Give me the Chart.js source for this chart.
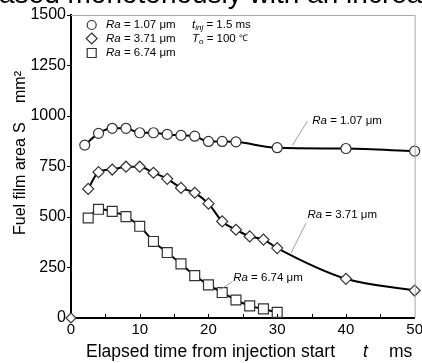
<!DOCTYPE html>
<html>
<head>
<meta charset="utf-8">
<script src="https://cdn.jsdelivr.net/npm/chart.js@4.4.0/dist/chart.umd.min.js"></script>
<style>
  html, body { margin: 0; padding: 0; background: #fff; overflow: hidden; }
  #wrap { width: 426px; height: 363px; }
</style>
</head>
<body>
<div id="wrap"><canvas id="myChart" width="426" height="363"></canvas></div>
<script>
// data (time in ms, area in mm2)
const timeRa107 = [2, 4, 6, 8, 10, 12, 14, 16, 18, 20, 22, 24, 30, 40, 50];
const areaRa107 = [856, 914, 939, 939, 917, 917, 909, 904, 900, 874, 874, 872, 843, 839, 826];

const timeRa371 = [2.5, 4, 6, 8, 10, 12, 14, 16, 18, 20, 22, 24, 26, 28, 30, 40, 50];
const areaRa371 = [639, 722, 735, 749, 749, 719, 689, 644, 620, 566, 478, 437, 404, 388, 346, 194, 136];

const timeRa674 = [2.5, 4, 6, 8, 10, 12, 14, 16, 18, 20, 22, 24, 26, 28, 30];
const areaRa674 = [495, 538, 528, 502, 454, 379, 324, 268, 210, 164, 126, 89, 60, 45, 28];

const originPoint = [{x: 0, y: 0}];

const xTicksMinor = [5, 10, 15, 20, 25, 30, 35, 40, 45];

// curve labels with leader lines (data units)
const curveLabels = [
    {text: ' = 1.07 μm', from: [32.2, 854], to: [34.4, 975], at: [35.1, 975]},
    {text: ' = 3.71 μm', from: [32.0, 321], to: [34.2, 470], at: [34.4, 512]},
    {text: ' = 6.74 μm', from: [21.6, 139], to: [23.5, 180], at: [23.6, 199]}
];

function toXY(tx, ty) {
    return tx.map((t, i) => ({x: t, y: ty[i]}));
}

function richText(ctx, x, y, parts) {
    let cx = x;
    parts.forEach(p => {
        ctx.font = (p.i ? 'italic ' : '') + (p.size || 11.5) + 'px Arial';
        ctx.fillText(p.t, cx, y + (p.dy || 0));
        cx += ctx.measureText(p.t).width;
    });
}

function marker(ctx, style, x, y) {
    ctx.save();
    ctx.fillStyle = '#fff';
    ctx.strokeStyle = '#333';
    ctx.lineWidth = 1.2;
    ctx.beginPath();
    if (style === 'circle') {
        ctx.arc(x, y, 4.5, 0, Math.PI * 2);
    } else if (style === 'diamond') {
        ctx.moveTo(x, y - 5.5); ctx.lineTo(x + 5.5, y); ctx.lineTo(x, y + 5.5); ctx.lineTo(x - 5.5, y); ctx.closePath();
    } else {
        ctx.rect(x - 4.5, y - 4.5, 9, 9);
    }
    ctx.fill();
    ctx.stroke();
    ctx.restore();
}

const decorPlugin = {
    id: 'decor',
    afterDraw(chart) {
        const ctx = chart.ctx;
        const a = chart.chartArea;
        const xs = chart.scales.x, ys = chart.scales.y;
        ctx.save();

        // cropped caption text at very top
        ctx.fillStyle = '#000';
        ctx.font = '28px Arial';
        ctx.textBaseline = 'alphabetic';
        ctx.textAlign = 'left';
        const pre = ctx.measureText('cre').width;
        ctx.fillText('creased monotonously with an increase', -1 - pre, 3);

        // frame top/right
        ctx.strokeStyle = '#aaa';
        ctx.lineWidth = 1;
        ctx.beginPath();
        ctx.moveTo(a.left, a.top + 0.5); ctx.lineTo(a.right + 0.5, a.top + 0.5);
        ctx.lineTo(a.right + 0.5, a.bottom);
        ctx.stroke();

        // inward ticks on x axis
        ctx.strokeStyle = '#000';
        ctx.beginPath();
        xTicksMinor.forEach(v => {
            const px = Math.round(xs.getPixelForValue(v)) + 0.5;
            ctx.moveTo(px, a.bottom - 1); ctx.lineTo(px, a.bottom - 4);
        });
        ctx.stroke();

        // legend
        ctx.fillStyle = '#000';
        ctx.textBaseline = 'middle';
        marker(ctx, 'circle', 91.7, 25);
        marker(ctx, 'diamond', 91.7, 38.5);
        marker(ctx, 'square', 91.7, 53);
        richText(ctx, 106, 25, [{t: 'Ra', i: true}, {t: ' = 1.07 μm'}]);
        richText(ctx, 106, 38.5, [{t: 'Ra', i: true}, {t: ' = 3.71 μm'}]);
        richText(ctx, 106, 53, [{t: 'Ra', i: true}, {t: ' = 6.74 μm'}]);
        richText(ctx, 192, 25, [{t: 't', i: true}, {t: 'inj', i: true, size: 8, dy: 3}, {t: ' = 1.5 ms'}]);
        richText(ctx, 192, 38.5, [{t: 'T', i: true}, {t: 'o', i: true, size: 8, dy: 3}, {t: ' = 100 '}, {t: '℃', size: 9}]);

        // curve labels
        curveLabels.forEach(l => {
            ctx.strokeStyle = '#888';
            ctx.lineWidth = 0.8;
            ctx.beginPath();
            ctx.moveTo(xs.getPixelForValue(l.from[0]), ys.getPixelForValue(l.from[1]));
            ctx.lineTo(xs.getPixelForValue(l.to[0]), ys.getPixelForValue(l.to[1]));
            ctx.stroke();
            ctx.fillStyle = '#000';
            richText(ctx, xs.getPixelForValue(l.at[0]), ys.getPixelForValue(l.at[1]), [{t: 'Ra', i: true}, {t: l.text}]);
        });

        // x axis title
        ctx.textBaseline = 'middle';
        ctx.font = '17.5px Arial';
        ctx.fillText('Elapsed time from injection start', 86, 352);
        ctx.font = 'italic 17.5px Arial';
        ctx.fillText('t', 363, 352);
        ctx.font = '17.5px Arial';
        ctx.fillText('ms', 389, 352);

        // y axis title
        ctx.save();
        ctx.translate(21, 0);
        ctx.rotate(-Math.PI / 2);
        ctx.font = '16px Arial';
        ctx.textAlign = 'left';
        ctx.fillText('Fuel film area', -235, 0);
        ctx.fillText('S', -133, 0);
        ctx.fillText('mm²', -103, 0);
        ctx.restore();

        ctx.restore();
    }
};

function seriesStyle(style, radius) {
    return {
        borderColor: '#000',
        borderWidth: 2,
        pointStyle: style,
        pointRadius: radius,
        pointBackgroundColor: '#fff',
        pointBorderColor: '#333',
        pointBorderWidth: 1.2,
        cubicInterpolationMode: 'monotone',
        clip: false,
        showLine: true
    };
}

const ctx = document.getElementById('myChart').getContext('2d');
new Chart(ctx, {
    type: 'scatter',
    data: {
        datasets: [
            Object.assign({label: 'Ra = 1.07', data: toXY(timeRa107, areaRa107)}, seriesStyle('circle', 5)),
            Object.assign({label: 'Ra = 3.71', data: toXY(timeRa371, areaRa371)}, seriesStyle('rectRot', 5.5)),
            Object.assign({label: 'Ra = 6.74', data: toXY(timeRa674, areaRa674)}, seriesStyle('rect', 7)),
            Object.assign({label: 'origin', data: originPoint}, seriesStyle('rectRot', 5), {showLine: false})
        ]
    },
    options: {
        responsive: false,
        animation: false,
        layout: {padding: {left: 0, right: 10, top: 15, bottom: 0}},
        plugins: {
            legend: {display: false},
            tooltip: {enabled: false}
        },
        scales: {
            x: {
                type: 'linear',
                min: 0,
                max: 50,
                afterFit: s => { s.height = 45; },
                ticks: {stepSize: 10, color: '#000', font: {family: 'Arial', size: 15}, padding: 3, maxRotation: 0},
                grid: {drawOnChartArea: false, drawTicks: false},
                border: {color: '#000', width: 2}
            },
            y: {
                min: 0,
                max: 1500,
                afterFit: s => { s.width = 71; },
                ticks: {stepSize: 250, color: '#000', font: {family: 'Arial', size: 16}, padding: 1,
                        callback: v => String(v)},
                grid: {drawOnChartArea: false, tickLength: 4, color: '#000'},
                border: {color: '#000', width: 2}
            }
        }
    },
    plugins: [decorPlugin]
});
</script>
</body>
</html>
